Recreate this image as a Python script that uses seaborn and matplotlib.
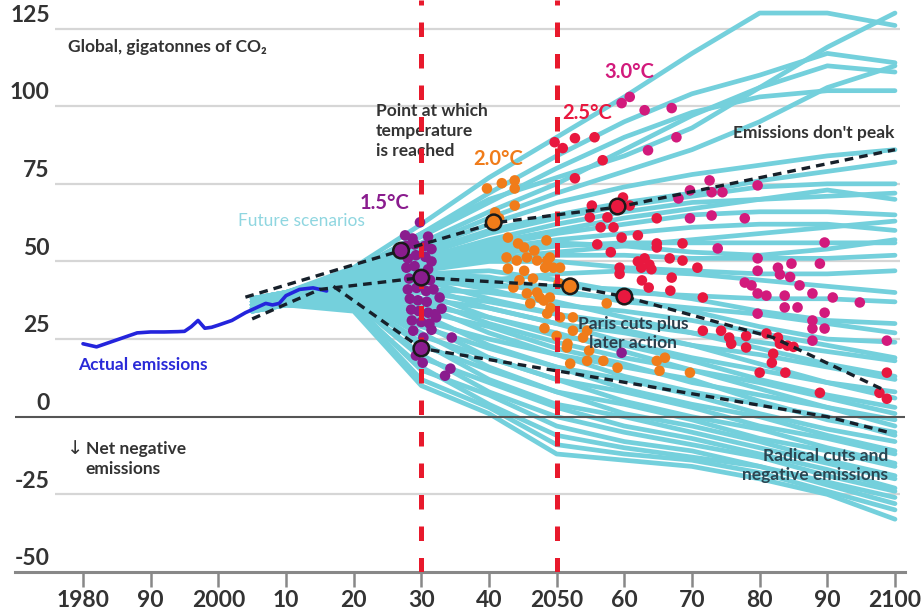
import numpy as np
import pandas as pd
import seaborn as sns
from matplotlib import pyplot as plt

# --- data ---------------------------------------------------------------
actual_years = [1980, 1982, 1984, 1986, 1988, 1990, 1992, 1994, 1995, 1996, 1997,
                1998, 1999, 2000, 2002, 2004, 2006, 2007, 2008, 2009, 2010,
                2012, 2014, 2016]
actual_values = [23.5, 22.5, 24.0, 25.5, 27.0, 27.3, 27.3, 27.4, 27.5, 29.0, 31.0,
                 28.5, 28.8, 29.5, 31.0, 33.5, 35.5, 36.5, 36.0, 36.5, 39.0,
                 41.0, 41.5, 40.5]

scen_years = [2005, 2010, 2020, 2030, 2040, 2050, 2060, 2070, 2080, 2090, 2100]
scen_high = [
    [38, 40, 48, 62, 77, 90, 103, 117, 130, 130, 126],
    [38, 40, 47, 59, 70, 77, 84, 93, 106, 119, 130],
    [38, 40, 47, 59, 72, 84, 95, 104, 110, 117, 114],
    [38, 40, 47, 58, 69, 80, 90, 98, 103, 105, 105],
    [38, 40, 46, 56, 66, 75, 86, 97, 106, 113, 111],
    [38, 40, 46, 55, 64, 72, 79, 86, 95, 106, 113],
    [38, 40, 46, 54, 62, 69, 74, 78, 81, 84, 86],
    [37, 40, 45, 53, 60, 65, 69, 72, 76, 79, 82],
]
scen_midhigh = [
    [37, 40, 45, 52, 59, 64, 68, 71, 74, 75, 75],
    [37, 40, 45, 51, 57, 62, 66, 69, 70, 71, 72],
    [37, 39, 44, 51, 56, 60, 64, 67, 70, 73, 70],
    [37, 39, 44, 50, 55, 59, 62, 65, 66, 66, 65],
    [37, 39, 44, 49, 54, 57, 59, 61, 62, 62, 60],
    [37, 39, 44, 49, 52, 55, 56, 56, 56, 56, 56],
    [37, 39, 43, 48, 51, 53, 55, 57, 59, 61, 63],
    [37, 39, 43, 48, 51, 52, 52, 51, 51, 51, 52],
    [37, 39, 43, 47, 53, 56, 55, 53, 52, 54, 57],
]
scen_mid = [
    [36, 39, 43, 47, 50, 50, 48, 47, 46, 46, 47],
    [36, 39, 43, 45, 44, 46, 47, 46, 44, 42, 40],
    [36, 39, 42, 46, 47, 44, 40, 39, 38, 38, 37],
    [36, 39, 42, 44, 42, 42, 41, 38, 34, 31, 30],
    [36, 38, 42, 46, 45, 41, 37, 35, 33, 30, 27],
    [36, 38, 42, 43, 43, 40, 38, 34, 29, 25, 24],
    [36, 38, 42, 45, 41, 36, 34, 31, 27, 23, 19],
    [36, 38, 41, 41, 40, 37, 32, 27, 24, 21, 18],
    [36, 38, 41, 44, 38, 33, 30, 27, 22, 17, 13],
    [36, 38, 41, 40, 37, 33, 28, 23, 20, 16, 12],
    [36, 38, 41, 42, 35, 30, 27, 23, 17, 11, 8],
    [36, 38, 41, 38, 35, 30, 24, 19, 15, 11, 6],
    [36, 38, 41, 40, 32, 26, 23, 18, 12, 7, 3],
    [36, 38, 40, 36, 32, 27, 21, 15, 11, 6, 1],
    [36, 38, 40, 38, 30, 24, 19, 15, 9, 3, -1],
]
scen_low = [
    [35, 38, 40, 34, 29, 22, 17, 11, 7, 3, -3],
    [35, 38, 40, 36, 27, 20, 16, 12, 5, -1, -5],
    [35, 38, 40, 31, 25, 20, 13, 8, 4, 0, -6],
    [35, 37, 40, 33, 23, 16, 12, 7, 1, -4, -8],
    [35, 37, 39, 29, 22, 16, 9, 4, 0, -6, -11],
    [35, 37, 39, 30, 19, 12, 8, 3, -3, -7, -12],
    [35, 37, 39, 26, 19, 12, 5, 0, -4, -10, -15],
    [35, 37, 39, 27, 16, 8, 4, -1, -7, -11, -16],
    [35, 37, 38, 23, 15, 8, 1, -3, -8, -14, -19],
    [35, 37, 38, 24, 12, 4, 0, -5, -10, -15, -20],
    [34, 37, 37, 19, 11, 3, -3, -7, -12, -17, -23],
    [34, 37, 37, 20, 8, 0, -5, -9, -13, -19, -24],
    [34, 36, 36, 15, 7, -3, -8, -11, -16, -21, -26],
    [34, 36, 35, 16, 4, -6, -10, -13, -16, -22, -28],
    [34, 36, 35, 12, 3, -9, -12, -14, -18, -24, -30],
    [34, 36, 34, 10, 1, -12, -14, -16, -20, -25, -33],
]

# pathway dashed lines
peak_no_years = [2004, 2027, 2041, 2059, 2100]
peak_no_values = [38.5, 53.5, 62.5, 67.5, 86]
paris_years = [2005, 2015, 2030, 2052, 2060, 2082, 2098]
paris_values = [31.5, 41, 44.8, 42, 38.7, 25.5, 9]
radical_years = [2017, 2030, 2050, 2090, 2099]
radical_values = [42, 22, 14.8, 0, -5]

# points where temperature is reached
dots_15 = [(2029.8, 62.6), (2027.6, 58.4), (2028.7, 57.4), (2031, 58),
           (2027.8, 55), (2029, 55.5), (2030.5, 55), (2031.5, 54),
           (2028, 51), (2029.2, 52), (2030.6, 51.5), (2031.5, 50),
           (2027.8, 48), (2029, 48.5), (2031, 47.5), (2028.2, 44.5), (2031.3, 44),
           (2028, 41), (2029.3, 41.5), (2030.7, 40.5), (2031.8, 41),
           (2028.3, 38), (2029.5, 37.5), (2030.8, 37),
           (2028.5, 34.5), (2029.6, 34), (2031, 33.5), (2032, 33),
           (2028.6, 31), (2030, 30.5), (2031.2, 30), (2031.5, 28),
           (2028.8, 27.7), (2030.3, 25.5), (2029.2, 19.7), (2030.2, 17.4),
           (2032.7, 38.4), (2033, 34.8), (2032.2, 32), (2034.5, 25.5),
           (2034.3, 15.5), (2033.5, 13.2), (2059.6, 20.6)]
dots_20 = [(2039.7, 73.5), (2041.9, 75.2), (2043.8, 76.1), (2043.8, 73.5), (2040.9, 65.8),
           (2043.8, 68), (2041.5, 63.9), (2042.8, 57.7), (2044.3, 55.8), (2045.2, 54.5),
           (2046.7, 53.5), (2042.6, 51.3), (2044.1, 50.3), (2045.6, 51.3), (2047.1, 50.3),
           (2048.6, 50.3), (2049.5, 48), (2042.8, 47.7), (2045.2, 47), (2043.6, 41.6),
           (2045.6, 39.7), (2047.1, 40), (2046.1, 36.5), (2048.1, 37.4), (2049.1, 35),
           (2048.6, 33.2), (2050.5, 32), (2048.5, 56.8), (2049, 51.3), (2048.3, 48),
           (2050.5, 48), (2047.5, 38.4), (2049, 38.4), (2052.4, 32), (2052.4, 27.7),
           (2053.9, 25.5), (2054.5, 27.7), (2057.4, 36.5), (2054.8, 21.3), (2051.5, 22.3),
           (2052, 17.1), (2054.5, 18), (2056.9, 18), (2059, 15.8), (2064.8, 18),
           (2065.2, 14.8), (2069.7, 14.2), (2066, 19), (2051.6, 23.5), (2044.5, 44),
           (2046.5, 44.5), (2050.3, 43), (2048.2, 28.5), (2050, 26)]
dots_25 = [(2049.7, 88.4), (2050.9, 86.5), (2052.7, 89.7), (2055.6, 90), (2056.8, 82.6),
           (2052.7, 76.8), (2055.2, 68), (2059.8, 70.6), (2060.8, 68), (2054.9, 64.2),
           (2057.5, 64.2), (2056.5, 61), (2058.4, 61), (2059.6, 57.7), (2062, 58.4),
           (2064.8, 63.9), (2064.8, 55.8), (2064.8, 54.5), (2062, 50), (2063, 51),
           (2063.7, 49), (2062.5, 48), (2064, 47.5), (2059.3, 48), (2059.3, 46),
           (2066.7, 51), (2068.6, 50.3), (2070.8, 48), (2067, 44.8), (2062.6, 43.9),
           (2063.6, 41.6), (2066.8, 40.6), (2068.6, 55.8), (2071.6, 38.4), (2071.6, 27.7),
           (2074.3, 27.7), (2075.5, 25.5), (2075.8, 23.5), (2078, 26), (2078, 22.3),
           (2081, 26.8), (2082.7, 25.5), (2083, 23.5), (2084.1, 22.9), (2085, 22.5),
           (2082, 20.3), (2081.8, 17.4), (2080, 14.2), (2083.8, 14.2), (2088.9, 7.7),
           (2097.7, 7.7), (2098.8, 5.8), (2098.8, 14.2), (2058, 53), (2056, 55.5)]
dots_30 = [(2059.6, 101), (2060.8, 103), (2063, 98.7), (2067, 99.4), (2067.7, 90),
           (2063.5, 85.8), (2069.7, 72.9), (2072.6, 76.1), (2074.5, 72.3), (2079.7, 74.5),
           (2068, 70.3), (2069.7, 63.9), (2072.9, 64.8), (2077.8, 63.9), (2073.8, 54.2),
           (2089.6, 56.1), (2079.7, 51), (2079.7, 47), (2082.7, 48), (2084.7, 49.3),
           (2083, 45.8), (2084.5, 45), (2085.9, 42.3), (2088.9, 49.3), (2077.8, 43.2),
           (2078.8, 42.3), (2079.7, 39.7), (2081, 39), (2083.7, 39), (2087.8, 39.7),
           (2090.8, 38.4), (2094.8, 36.8), (2079.7, 33.2), (2083.7, 35.2), (2085.6, 35.2),
           (2089.6, 33.5), (2087.8, 31), (2087.8, 28.4), (2089.6, 28.4), (2087.8, 24.5),
           (2098.8, 24.5), (2072.9, 72.3)]

# highlighted crossings on the pathways
circle_years = [2027, 2030, 2030, 2040.7, 2052, 2059, 2060]
circle_values = [53.5, 44.8, 22, 62.6, 42, 67.7, 38.7]
circle_temps = ['1.5', '1.5', '1.5', '2.0', '2.0', '2.5', '2.5']

temp_colors = {'1.5': '#8a1c8e', '2.0': '#f07c1a', '2.5': '#e8183f', '3.0': '#d21a7c'}
CYAN = '#74d0dc'
RED = '#e8192c'
INK = '#333333'

tick_years = [1980, 1990, 2000, 2010, 2020, 2030, 2040, 2050, 2060, 2070, 2080, 2090, 2100]
tick_labels = ['1980', '90', '2000', '10', '20', '30', '40', '2050', '60', '70', '80', '90', '2100']
grid_values = [125, 100, 75, 50, 25, 0, -25, -50]

# --- frames -------------------------------------------------------------
all_scen = scen_high + scen_midhigh + scen_mid + scen_low
scen_df = pd.DataFrame([
    {'scenario': i, 'year': y, 'value': v}
    for i, vals in enumerate(all_scen) for y, v in zip(scen_years, vals)
])
dots_df = pd.DataFrame(
    [{'year': y, 'value': v, 'temp': t}
     for t, pts in [('1.5', dots_15), ('2.0', dots_20), ('2.5', dots_25), ('3.0', dots_30)]
     for y, v in pts]
)
circles_df = pd.DataFrame({'year': circle_years, 'value': circle_values, 'temp': circle_temps})

# --- plot ---------------------------------------------------------------
sns.set_theme(style='white')
plt.rcParams['font.family'] = ['Lato', 'DejaVu Sans']

fig = plt.figure(figsize=(9.24, 6.12), dpi=100)
ax = fig.add_axes([15 / 924, 40 / 612, 890 / 924, 572 / 612])
ax.set_xlim(1969.95, 2101.48)
ax.set_ylim(-50, 134.2)

# gridlines
for g in grid_values:
    if g in (0, -50):
        continue
    ax.hlines(g, 1975.9, 2100.7, color='#d6d6d6', lw=1.6, zorder=0)
ax.axhline(0, color='#555555', lw=1.5, zorder=3)

sns.lineplot(data=scen_df, x='year', y='value', units='scenario', estimator=None,
             color=CYAN, lw=3.4, ax=ax, zorder=1, legend=False)

sns.lineplot(x=actual_years, y=actual_values, color='#2424dc', lw=2.6, ax=ax, zorder=4)

sns.scatterplot(data=dots_df, x='year', y='value', hue='temp', palette=temp_colors,
                s=58, edgecolor='none', linewidth=0, ax=ax, zorder=5, legend=False)

for x in (2030, 2050):
    ax.axvline(x, color=RED, lw=3.6, dashes=(2.9, 3.4), zorder=6)

for yrs, vals in [(peak_no_years, peak_no_values), (paris_years, paris_values),
                  (radical_years, radical_values)]:
    sns.lineplot(x=yrs, y=vals, color='#17202a', lw=2.4, ax=ax, zorder=7,
                 dashes=False).lines[-1].set_dashes((2.6, 1.8))

sns.scatterplot(data=circles_df, x='year', y='value', hue='temp', palette=temp_colors,
                s=125, edgecolor='#1a1a1a', linewidth=1.8, ax=ax, zorder=8, legend=False)

# axes styling
for side in ('top', 'left', 'right'):
    ax.spines[side].set_visible(False)
ax.spines['bottom'].set_color('#888888')
ax.spines['bottom'].set_linewidth(2.2)
ax.set_xticks(tick_years)
ax.set_xticklabels(tick_labels, fontsize=16.5, fontweight='bold', color=INK)
ax.tick_params(axis='x', length=11, width=1.8, color='#888888', pad=2, bottom=True)
ax.set_yticks([])
ax.set_xlabel('')
ax.set_ylabel('')
for g in grid_values:
    ax.text(1975.1, g + 4.3, str(g), ha='right', va='center', fontsize=16.5,
            fontweight='bold', color=INK)

# annotations
ANN = 12.5
ax.text(1977.8, 119, 'Global, gigatonnes of CO₂', fontsize=ANN, fontweight='bold',
        color=INK, va='center')
# one text per line so each box hugs its own line
for line, yv in zip(['Point at which', 'temperature', 'is reached'], [98.5, 92.0, 85.5]):
    ax.text(2023.3, yv, line, fontsize=ANN, fontweight='bold', color=INK,
            va='center', zorder=2)
ax.text(2002.9, 62.9, 'Future scenarios', fontsize=ANN, color='#8fd6e0', va='center')
ax.text(2020.9, 68.7, '1.5°C', fontsize=14.5, fontweight='bold', color=temp_colors['1.5'], va='center')
ax.text(2037.7, 83.0, '2.0°C', fontsize=14.5, fontweight='bold', color=temp_colors['2.0'], va='center')
ax.text(2050.8, 97.7, '2.5°C', fontsize=14.5, fontweight='bold', color=temp_colors['2.5'], va='center')
ax.text(2057.0, 111.0, '3.0°C', fontsize=14.5, fontweight='bold', color=temp_colors['3.0'], va='center')
ax.text(2076.0, 91.3, "Emissions don't peak", fontsize=ANN, fontweight='bold', color=INK, va='center')
ax.text(2061.3, 26.8, 'Paris cuts plus\nlater action', fontsize=ANN, fontweight='bold',
        color='#2b3f4c', ha='center', va='center', linespacing=1.2, zorder=9)
ax.text(2099.0, -15.8, 'Radical cuts and\nnegative emissions', fontsize=ANN, fontweight='bold',
        color='#2b4652', ha='right', va='center', linespacing=1.25, zorder=9)
ax.text(1979.3, 16.5, 'Actual emissions', fontsize=ANN, fontweight='bold', color='#2a2ad8', va='center')
ax.text(1977.6, -10.3, '↓', fontsize=14, color=INK, va='center', family=['DejaVu Sans'])
ax.text(1980.4, -13.6, 'Net negative\nemissions', fontsize=ANN, fontweight='bold', color=INK,
        va='center', linespacing=1.25)

fig.savefig('out.png', dpi=100)
